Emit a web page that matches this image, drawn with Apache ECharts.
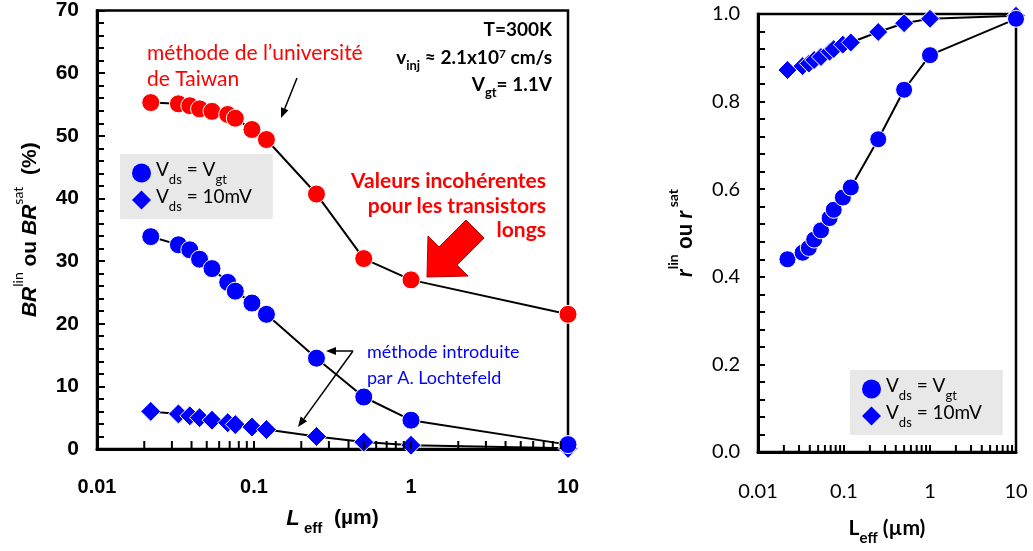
<!DOCTYPE html>
<html><head><meta charset="utf-8">
<script src="https://cdn.jsdelivr.net/npm/echarts@6/dist/echarts.min.js"></script>
</head>
<body style="margin:0;background:#fff">
<div id="c" style="width:1033px;height:551px"></div>
<script>
// ---- data ----
const leff      = [0.022, 0.033, 0.039, 0.045, 0.054, 0.068, 0.076, 0.097, 0.12, 0.25, 0.5, 1, 10];
const brTaiwan  = [55.3, 55.1, 54.8, 54.3, 53.9, 53.4, 52.8, 51.0, 49.4, 40.7, 30.4, 27.0, 21.5];
const brSat     = [33.9, 32.6, 31.8, 30.3, 28.8, 26.6, 25.2, 23.3, 21.5, 14.5, 8.3, 4.6, 0.7];
const brLin     = [6.0, 5.6, 5.3, 5.0, 4.6, 4.2, 3.9, 3.5, 3.1, 2.0, 1.1, 0.6, 0.1];
const rSat      = [0.440, 0.455, 0.466, 0.485, 0.506, 0.534, 0.553, 0.581, 0.604, 0.714, 0.827, 0.906, 0.989];
const rLin      = [0.872, 0.881, 0.887, 0.895, 0.902, 0.914, 0.920, 0.930, 0.935, 0.959, 0.979, 0.989, 0.996];
const xTickLabels = ['0.01', '0.1', '1', '10'];
const xTickValues = [0.01, 0.1, 1, 10];
const minorXTicks = [0.02,0.03,0.04,0.05,0.06,0.07,0.08,0.09, 0.2,0.3,0.4,0.5,0.6,0.7,0.8,0.9, 2,3,4,5,6,7,8,9];

const pairs = (xs, ys) => xs.map((x, i) => [x, ys[i]]);
const SANS = 'Lato';
const ARIAL = 'Liberation Sans';

function lineSeries(name, gi, data, color, symbol, size) {
  return {
    name, type: 'line', xAxisIndex: gi, yAxisIndex: gi, data, symbol, symbolSize: size,
    clip: false, z: 3,
    itemStyle: { color, borderColor: '#fff', borderWidth: 1 },
    lineStyle: { color: '#000', width: 2 },
    emphasis: { disabled: true }
  };
}
// log-axis tick marks (major + minor) drawn at their axis values on the bottom edge
function tickSeries(gi, len) {
  return {
    type: 'scatter', xAxisIndex: gi, yAxisIndex: gi, silent: true, z: 4, clip: false,
    data: xTickValues.slice(1, 3).concat(minorXTicks).map(v => [v, 0]),
    symbol: 'rect', symbolSize: [2, len], symbolOffset: [0, -len / 2],
    itemStyle: { color: '#000', opacity: 1 }, emphasis: { disabled: true }
  };
}
function xAxis(gi, bold, margin, nameGap, nameRich) {
  return {
    type: 'log', logBase: 10, min: 0.01, max: 10, gridIndex: gi,
    axisLine: { show: true, lineStyle: { color: '#000', width: 3 } },
    axisTick: { show: false },
    splitLine: { show: false }, minorTick: { show: false },
    axisLabel: {
      color: '#000', fontSize: 20, fontWeight: bold ? 'bold' : 'normal',
      fontFamily: bold ? ARIAL : SANS, margin,
      formatter: v => { const i = xTickValues.findIndex(t => Math.abs(Math.log10(t) - Math.log10(v)) < 1e-6); return i >= 0 ? xTickLabels[i] : ''; }
    },
    name: nameRich, nameLocation: 'middle', nameGap,
    nameTextStyle: {
      color: '#000',
      rich: {
        L: { fontSize: 22, fontWeight: 'bold', fontStyle: bold ? 'italic' : 'normal', fontFamily: bold ? ARIAL : SANS, lineHeight: 28, verticalAlign: 'top', color: '#000' },
        s: { fontSize: 15, fontWeight: 'bold', fontFamily: bold ? ARIAL : SANS, lineHeight: 28, verticalAlign: 'bottom', color: '#000' },
        t: { fontSize: 21, fontWeight: 'bold', fontFamily: bold ? ARIAL : SANS, lineHeight: 28, verticalAlign: 'top', color: '#000' }
      }
    }
  };
}

const legendRich = {
  t: { fontSize: 19, fontFamily: SANS, color: '#000', lineHeight: 26, verticalAlign: 'top' },
  s: { fontSize: 13, fontFamily: SANS, color: '#000', lineHeight: 26, verticalAlign: 'bottom' }
};
const legendFmt = n => n === 'Vgt' ? '{t|V}{s|ds}{t| = V}{s|gt}' : '{t|V}{s|ds}{t| = 10mV}';
function legend(left, top) {
  return {
    left, top, orient: 'vertical', backgroundColor: '#e8e8e8',
    padding: [6, 21, 6, 12], itemGap: 1, itemWidth: 19, itemHeight: 19,
    data: [{ name: 'Vgt', icon: 'circle' }, { name: '10mV', icon: 'diamond' }],
    itemStyle: { borderWidth: 0 },
    formatter: legendFmt, textStyle: { rich: legendRich }, selectedMode: false
  };
}

function arrow(x1, y1, x2, y2, color, hl, hw) {
  const dx = x2 - x1, dy = y2 - y1, L = Math.hypot(dx, dy), ux = dx / L, uy = dy / L;
  const bx = x2 - ux * hl, by = y2 - uy * hl;
  return [
    { type: 'line', z: 10, shape: { x1, y1, x2: bx, y2: by }, style: { stroke: color, lineWidth: 1.5 } },
    { type: 'polygon', z: 10, shape: { points: [[x2, y2], [bx - uy * hw, by + ux * hw], [bx + uy * hw, by - ux * hw]] }, style: { fill: color } }
  ];
}

const txt = (x, y, text, opts) => ({ type: 'text', x, y, z: 10, style: Object.assign({ text, fill: '#000', verticalAlign: 'middle' }, opts) });
const boldRich = {
  b: { font: 'bold 19px Lato', fill: '#000', lineHeight: 24, verticalAlign: 'top' },
  s: { font: 'bold 13px Lato', fill: '#000', lineHeight: 24, verticalAlign: 'bottom' },
  p: { font: 'bold 12px Lato', fill: '#000', lineHeight: 14, verticalAlign: 'top' }
};

const chart = echarts.init(document.getElementById('c'), null, { renderer: 'canvas' });
chart.setOption({
  animation: false,
  backgroundColor: '#fff',
  grid: [
    { left: 97, top: 10, width: 471, height: 439, show: true, borderColor: '#000', borderWidth: 2.5, backgroundColor: 'transparent' },
    { left: 758, top: 14, width: 258, height: 443, show: true, borderColor: '#000', borderWidth: 2.5, backgroundColor: 'transparent' }
  ],
  xAxis: [
    xAxis(0, true, 28, 59, '{L|L}{s| eff}{t|  (µm)}'),
    xAxis(1, false, 30, 66, '{t|L}{s|eff}{t| (µm)}')
  ],
  yAxis: [
    {
      type: 'value', gridIndex: 0, min: 0, max: 70, interval: 10,
      axisLine: { show: true, lineStyle: { color: '#000', width: 3 } },
      axisTick: { inside: true, length: 8, lineStyle: { color: '#000', width: 2 } },
      minorTick: { show: true, splitNumber: 5, length: 7, lineStyle: { color: '#000', width: 2 } },
      splitLine: { show: false },
      axisLabel: { color: '#000', fontSize: 21, fontWeight: 'bold', fontFamily: ARIAL, margin: 18 },
      name: '{bi|BR}{sp|lin}{b| ou }{bi|BR}{sp|sat}{b|  (%)}', nameLocation: 'middle', nameGap: 56,
      nameTextStyle: { rich: {
        bi: { fontSize: 21, fontWeight: 'bold', fontStyle: 'italic', fontFamily: ARIAL, color: '#000', lineHeight: 30, verticalAlign: 'bottom' },
        b:  { fontSize: 21, fontWeight: 'bold', fontFamily: ARIAL, color: '#000', lineHeight: 30, verticalAlign: 'bottom' },
        sp: { fontSize: 14, fontFamily: SANS, color: '#000', lineHeight: 16, verticalAlign: 'top' }
      } }
    },
    {
      type: 'value', gridIndex: 1, min: 0, max: 1, interval: 0.2,
      axisLine: { show: true, lineStyle: { color: '#000', width: 3 } },
      axisTick: { inside: true, length: 7, lineStyle: { color: '#000', width: 2 } },
      minorTick: { show: true, splitNumber: 5, length: 7, lineStyle: { color: '#000', width: 2 } },
      splitLine: { show: false },
      axisLabel: { color: '#000', fontSize: 20, fontFamily: SANS, margin: 18, formatter: v => v.toFixed(1) },
      name: '{bi|r}{sp|lin}{b| ou }{bi|r}{sp| sat}', nameLocation: 'middle', nameGap: 62,
      nameTextStyle: { rich: {
        bi: { fontSize: 22, fontWeight: 'bold', fontStyle: 'italic', fontFamily: SANS, color: '#000', lineHeight: 30, verticalAlign: 'bottom' },
        b:  { fontSize: 22, fontWeight: 'bold', fontFamily: SANS, color: '#000', lineHeight: 30, verticalAlign: 'bottom' },
        sp: { fontSize: 14, fontWeight: 'bold', fontFamily: SANS, color: '#000', lineHeight: 16, verticalAlign: 'top' }
      } }
    }
  ],
  legend: [legend(120, 154), legend(850, 370)],
  series: [
    tickSeries(0, 8),
    tickSeries(1, 7),
    lineSeries('taiwan', 0, pairs(leff, brTaiwan), '#ff0000', 'circle', 18),
    lineSeries('10mV', 0, pairs(leff, brLin), '#0000ff', 'diamond', 20),
    lineSeries('Vgt', 0, pairs(leff, brSat), '#0000ff', 'circle', 18),
    lineSeries('10mV', 1, pairs(leff, rLin), '#0000ff', 'diamond', 19),
    lineSeries('Vgt', 1, pairs(leff, rSat), '#0000ff', 'circle', 17)
  ],
  graphic: [
    txt(147, 53, 'méthode de l\u2019université', { fill: '#ff0000', font: '21px Lato' }),
    txt(147, 79, 'de Taiwan', { fill: '#ff0000', font: '21px Lato' }),
    ...arrow(297, 78, 281, 118, '#000', 10, 4),
    txt(552, 30, 'T=300K', { align: 'right', font: 'bold 19px Lato' }),
    txt(552, 60, '{b|v}{s|inj}{b| \u2248 2.1x10}{p|7}{b| cm/s}', { align: 'right', rich: boldRich }),
    txt(552, 87, '{b|V}{s|gt}{b|= 1.1V}', { align: 'right', rich: boldRich }),
    txt(546, 181, 'Valeurs incohérentes', { align: 'right', fill: '#ff0000', font: 'bold 21px Lato' }),
    txt(546, 206, 'pour les transistors', { align: 'right', fill: '#ff0000', font: 'bold 21px Lato' }),
    txt(546, 230, 'longs', { align: 'right', fill: '#ff0000', font: 'bold 21px Lato' }),
    { type: 'polygon', z: 10, shape: { points: [[427, 277], [468, 276], [457, 265], [484, 238], [466, 220], [439, 247], [428, 236]] },
      style: { fill: '#ff0000', stroke: '#b00000', lineWidth: 1 } },
    txt(367, 352, 'méthode introduite', { fill: '#0000ff', font: '18px Lato' }),
    txt(367, 378, 'par A. Lochtefeld', { fill: '#0000ff', font: '18px Lato' }),
    ...arrow(353, 351, 326, 351, '#000', 10, 4),
    ...arrow(353, 351, 298, 427, '#000', 10, 4)
  ]
});
</script>
</body></html>
